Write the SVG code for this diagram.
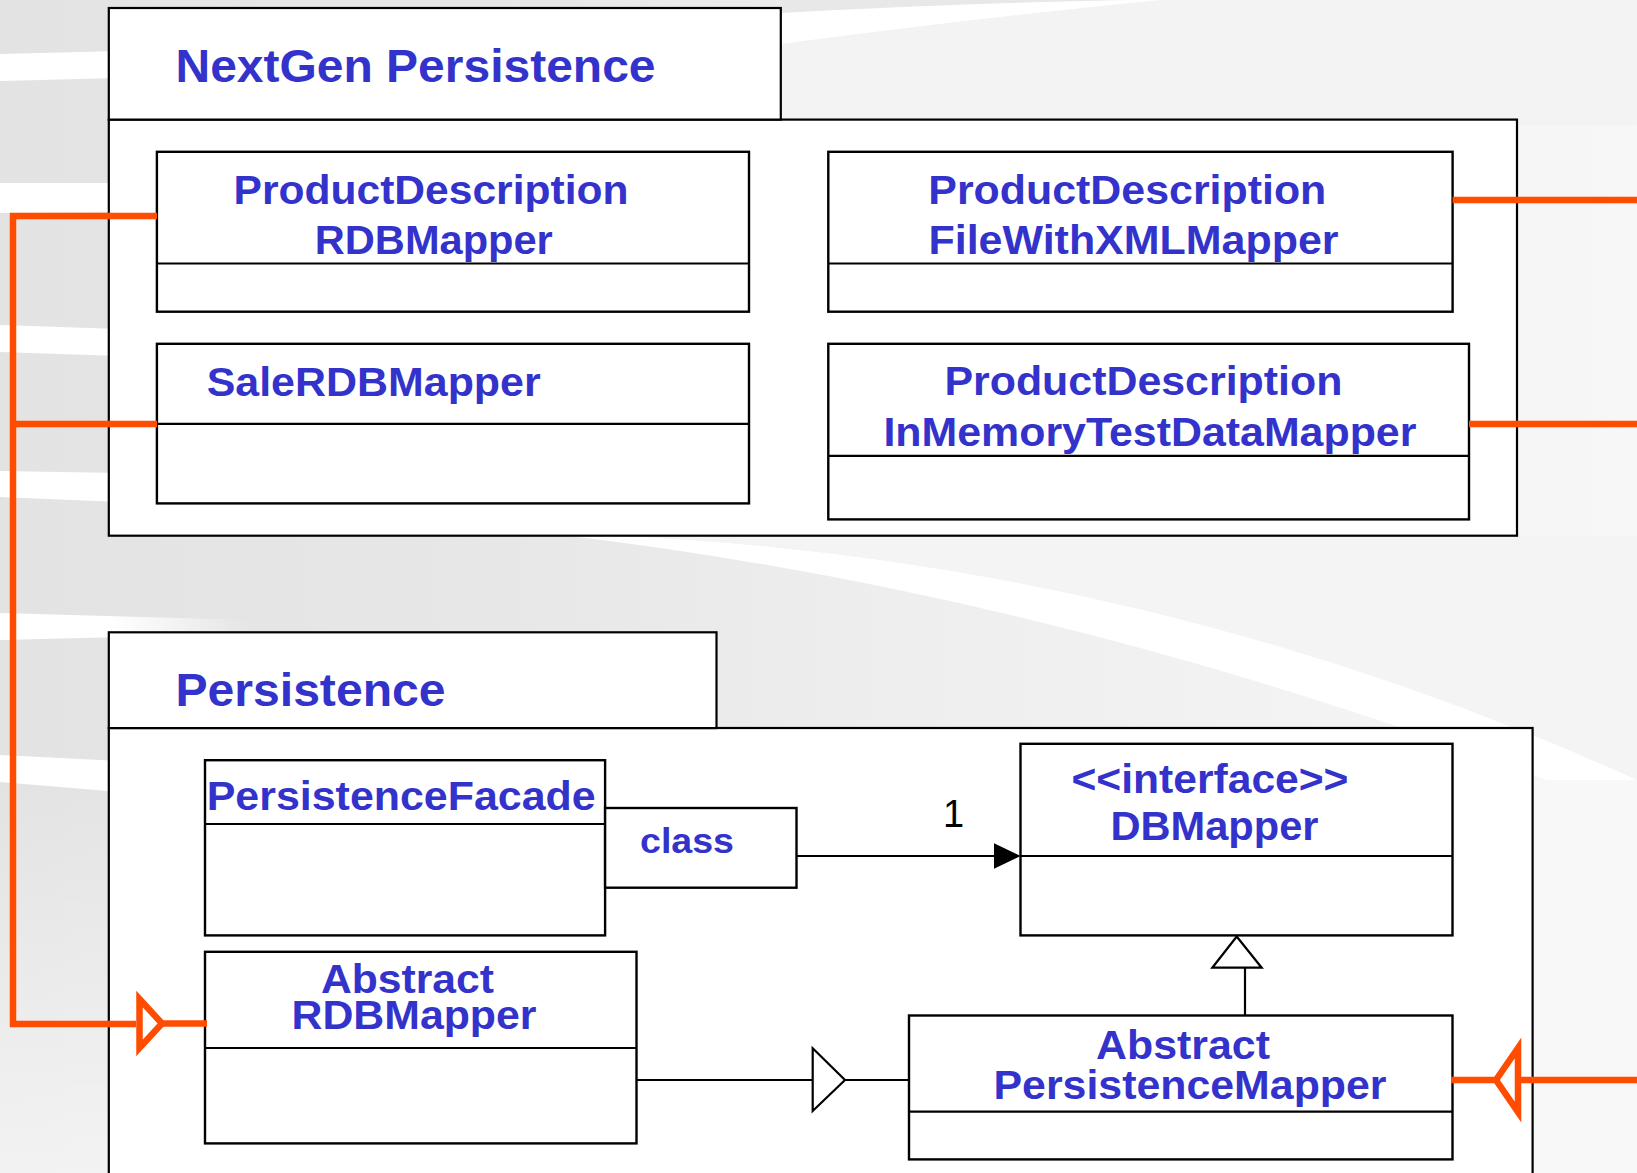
<svg xmlns="http://www.w3.org/2000/svg" width="1637" height="1173" viewBox="0 0 1637 1173">
  <defs>
    <linearGradient id="bgFade" x1="0" y1="0" x2="1" y2="0">
      <stop offset="0" stop-color="#e3e3e3"/>
      <stop offset="0.3" stop-color="#e7e7e7"/>
      <stop offset="0.55" stop-color="#eeeeee"/>
      <stop offset="1" stop-color="#f7f7f7"/>
    </linearGradient>
    <linearGradient id="bottomFade" x1="0" y1="0" x2="0" y2="1">
      <stop offset="0" stop-color="#ffffff" stop-opacity="0"/>
      <stop offset="1" stop-color="#ffffff" stop-opacity="0.55"/>
    </linearGradient>
    <linearGradient id="bandFade" x1="0" y1="0" x2="1" y2="0">
      <stop offset="0" stop-color="#ffffff"/>
      <stop offset="0.45" stop-color="#ffffff"/>
      <stop offset="1" stop-color="#ffffff" stop-opacity="0"/>
    </linearGradient>
    <style>
      .pkg { fill: #ffffff; stroke: #000000; stroke-width: 2.2; }
      .cls { fill: #ffffff; stroke: #000000; stroke-width: 2.4; }
      .sep { stroke: #000000; stroke-width: 2.2; }
      .lbl { font-family: "Liberation Sans", Arial, sans-serif; font-weight: bold; font-size: 41px; fill: #3333cc; }
      .title { font-size: 47px; }
      .small { font-size: 35px; }
      .mult { font-family: "Liberation Sans", Arial, sans-serif; font-size: 38px; fill: #000000; }
      .assoc { stroke: #000000; stroke-width: 2.2; fill: none; }
      .head { stroke: #000000; stroke-width: 2.2; fill: #ffffff; stroke-linejoin: miter; }
      .filled { fill: #000000; stroke: none; }
      .dep { stroke: #ff4c00; stroke-width: 6.5; fill: none; stroke-linecap: butt; }
      .dephead { stroke: #ff4c00; stroke-width: 6.5; fill: #ffffff; stroke-linejoin: miter; }
    </style>
  </defs>

  <!-- slide background with light swooshes -->
  <g id="background">
    <rect x="0" y="0" width="1637" height="1173" fill="url(#bgFade)"/>
    <rect x="0" y="780" width="1637" height="393" fill="url(#bottomFade)"/>
    <!-- left strip bands -->
    <path d="M0 54 L120 51 L120 78 L0 81 Z" fill="#ffffff"/>
    <path d="M0 183 L120 183 L120 212 L0 213 Z" fill="#ffffff"/>
    <path d="M0 325 L120 329 L120 356 L0 352 Z" fill="#ffffff"/>
    <path d="M0 471 L120 473 L120 502 L0 497 Z" fill="#ffffff"/>
    <path d="M0 613 L250 620 L250 634 L0 640 Z" fill="url(#bandFade)"/>
    <path d="M0 755 L120 761 L120 792 L0 782 Z" fill="#ffffff"/>
    <!-- top right swoosh -->
    <path d="M781 0 L1150 0 Q960 3 781 13 Z" fill="#e8e8e8"/>
    <path d="M781 44 Q960 20 1160 0 L1637 0 L1637 125 L781 125 Z" fill="#f3f3f3"/>
    <path d="M781 13 Q960 3 1130 0 L1160 0 Q960 20 781 44 Z" fill="#ffffff"/>
    <!-- middle swoosh -->
    <path d="M620 536 Q1150 560 1637 780 L1637 536 Z" fill="#f4f4f4"/>
    <path d="M620 536 Q1150 560 1637 780 L1637 815 Q1100 600 570 536 Z" fill="#ffffff"/>
    <rect x="1533" y="780" width="104" height="393" fill="#f8f8f8"/>
  </g>

  <!-- package: NextGen Persistence -->
  <g id="pkg-nextgen">
    <rect class="pkg" x="108.8" y="119.6" width="1408.2" height="416.1"/>
    <rect class="pkg" x="108.8" y="8" width="672" height="111.6"/>
    <text class="lbl title" x="175.5" y="82" textLength="480" lengthAdjust="spacingAndGlyphs">NextGen Persistence</text>
  </g>

  <g id="ProductDescriptionRDBMapper">
    <rect class="cls" x="156.9" y="151.8" width="592.1" height="159.9"/>
    <line class="sep" x1="156.9" y1="263.5" x2="749" y2="263.5"/>
    <text class="lbl" x="233.5" y="204" textLength="395" lengthAdjust="spacingAndGlyphs">ProductDescription</text>
    <text class="lbl" x="314.8" y="254" textLength="238" lengthAdjust="spacingAndGlyphs">RDBMapper</text>
  </g>

  <g id="ProductDescriptionFileWithXMLMapper">
    <rect class="cls" x="828.3" y="151.8" width="624.3" height="159.9"/>
    <line class="sep" x1="828.3" y1="263.5" x2="1452.6" y2="263.5"/>
    <text class="lbl" x="928.3" y="204" textLength="398" lengthAdjust="spacingAndGlyphs">ProductDescription</text>
    <text class="lbl" x="928.5" y="254" textLength="410" lengthAdjust="spacingAndGlyphs">FileWithXMLMapper</text>
  </g>

  <g id="SaleRDBMapper">
    <rect class="cls" x="156.9" y="343.8" width="592.1" height="159.6"/>
    <line class="sep" x1="156.9" y1="423.8" x2="749" y2="423.8"/>
    <text class="lbl" x="206.7" y="396" textLength="334" lengthAdjust="spacingAndGlyphs">SaleRDBMapper</text>
  </g>

  <g id="ProductDescriptionInMemoryTestDataMapper">
    <rect class="cls" x="828.3" y="343.8" width="640.7" height="175.6"/>
    <line class="sep" x1="828.3" y1="455.9" x2="1469" y2="455.9"/>
    <text class="lbl" x="944.4" y="394.5" textLength="398" lengthAdjust="spacingAndGlyphs">ProductDescription</text>
    <text class="lbl" x="883.4" y="446.3" textLength="533" lengthAdjust="spacingAndGlyphs">InMemoryTestDataMapper</text>
  </g>

  <!-- package: Persistence -->
  <g id="pkg-persistence">
    <rect class="pkg" x="108.8" y="728" width="1423.8" height="470"/>
    <rect class="pkg" x="108.8" y="632.3" width="607.7" height="95.8"/>
    <text class="lbl title" x="175.5" y="706" textLength="270" lengthAdjust="spacingAndGlyphs">Persistence</text>
  </g>

  <g id="PersistenceFacade">
    <rect class="cls" x="205" y="760.2" width="400.1" height="175.2"/>
    <line class="sep" x1="205" y1="824" x2="605.1" y2="824"/>
    <text class="lbl" x="206.7" y="810.2" textLength="389" lengthAdjust="spacingAndGlyphs">PersistenceFacade</text>
    <!-- qualifier box attached to the facade -->
    <rect class="cls" x="605.1" y="808" width="191.4" height="79.7"/>
    <text class="lbl small" x="640" y="853" textLength="94" lengthAdjust="spacingAndGlyphs">class</text>
  </g>

  <g id="DBMapper">
    <rect class="cls" x="1020.5" y="743.8" width="432" height="191.6"/>
    <line class="sep" x1="1020.5" y1="856" x2="1452.5" y2="856"/>
    <text class="lbl" x="1071.5" y="793.3" textLength="277" lengthAdjust="spacingAndGlyphs">&lt;&lt;interface&gt;&gt;</text>
    <text class="lbl" x="1110.5" y="840" textLength="208" lengthAdjust="spacingAndGlyphs">DBMapper</text>
  </g>

  <g id="AbstractRDBMapper">
    <rect class="cls" x="205" y="951.8" width="431.5" height="191.6"/>
    <line class="sep" x1="205" y1="1048" x2="636.5" y2="1048"/>
    <text class="lbl" x="321" y="993.2" textLength="173" lengthAdjust="spacingAndGlyphs">Abstract</text>
    <text class="lbl" x="291.5" y="1029" textLength="245" lengthAdjust="spacingAndGlyphs">RDBMapper</text>
  </g>

  <g id="AbstractPersistenceMapper">
    <rect class="cls" x="909" y="1015.5" width="543.5" height="143.9"/>
    <line class="sep" x1="909" y1="1111.7" x2="1452.5" y2="1111.7"/>
    <text class="lbl" x="1096" y="1059.3" textLength="174" lengthAdjust="spacingAndGlyphs">Abstract</text>
    <text class="lbl" x="993.5" y="1098.8" textLength="393" lengthAdjust="spacingAndGlyphs">PersistenceMapper</text>
  </g>

  <!-- connectors -->
  <g id="connectors">
    <!-- qualified association to DBMapper -->
    <line class="assoc" x1="796.5" y1="856" x2="996" y2="856"/>
    <polygon class="filled" points="994,843.3 1020.5,856 994,868.7"/>
    <text class="mult" x="943" y="826.7">1</text>

    <!-- AbstractPersistenceMapper realizes DBMapper -->
    <line class="assoc" x1="1245" y1="1015.5" x2="1245" y2="967.7"/>
    <polygon class="head" points="1236.7,936.5 1261.7,967.7 1212.3,967.7"/>

    <!-- AbstractRDBMapper extends AbstractPersistenceMapper -->
    <line class="assoc" x1="636.5" y1="1080" x2="812.7" y2="1080"/>
    <polygon class="head" points="812.7,1048.3 845,1080 812.7,1111"/>
    <line class="assoc" x1="845" y1="1080" x2="909" y2="1080"/>

    <!-- NextGen mappers: left bus to AbstractRDBMapper -->
    <path class="dep" d="M157 216 H13 V1024 H136"/>
    <line class="dep" x1="13" y1="424" x2="157" y2="424"/>
    <polygon class="dephead" points="139.5,999 162,1023.5 139.5,1048"/>
    <line class="dep" x1="162" y1="1023.5" x2="207" y2="1023.5"/>

    <!-- NextGen mappers: right bus to AbstractPersistenceMapper -->
    <line class="dep" x1="1452.6" y1="200" x2="1637" y2="200"/>
    <line class="dep" x1="1469" y1="424" x2="1637" y2="424"/>
    <line class="dep" x1="1451" y1="1080" x2="1496" y2="1080"/>
    <polygon class="dephead" points="1518,1048 1496,1080 1518,1112"/>
    <line class="dep" x1="1518" y1="1080" x2="1637" y2="1080"/>
  </g>
</svg>
